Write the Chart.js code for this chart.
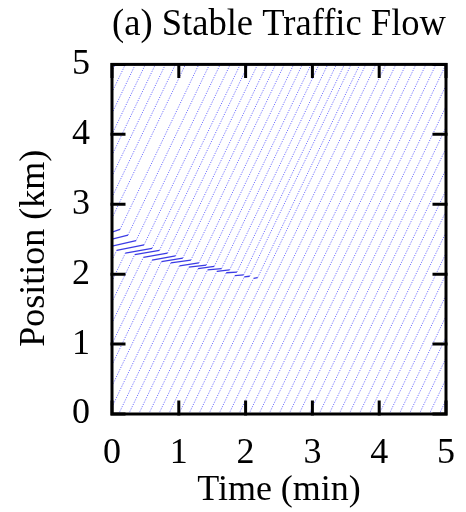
<!DOCTYPE html>
<html>
<head>
<meta charset="utf-8">
<script src="https://cdn.jsdelivr.net/npm/chart.js@4/dist/chart.umd.min.js"></script>
<style>
  html, body { margin: 0; padding: 0; background: #fff; }
  #wrap { width: 466px; height: 512px; }
</style>
</head>
<body>
<div id="wrap"><canvas id="myChart" width="466" height="512"></canvas></div>
<script>
// axis ticks
var timeTicks = [0, 1, 2, 3, 4, 5];
var posTicks = [0, 1, 2, 3, 4, 5];

// free-flowing vehicles: where each trajectory enters and leaves the plot box (time in min, position in km)
var freeT0 = [0, 0, 0, 0, 0, 0, 0, 0, 1.3, 1.45, 1.6, 1.75, 1.9, 2.05, 2.2, 2.35, 2.5,
  2.65, 2.8, 2.95, 3.1, 3.25, 3.4, 3.55, 3.7, 3.85, 4.0, 4.15, 4.3, 4.45, 4.6, 4.75, 4.9];
var freeP0 = [4.9, 4.6, 4.3, 4.0, 3.7, 3.4, 3.1, 2.8, 0, 0, 0, 0, 0, 0, 0, 0, 0,
  0, 0, 0, 0, 0, 0, 0, 0, 0, 0, 0, 0, 0, 0, 0, 0];
var freeT1 = [0.05, 0.2, 0.35, 0.5, 0.65, 0.8, 0.95, 1.1, 3.8, 3.95, 4.1, 4.25, 4.4, 4.55, 4.7, 4.85, 5,
  5, 5, 5, 5, 5, 5, 5, 5, 5, 5, 5, 5, 5, 5, 5, 5];
var freeP1 = [5, 5, 5, 5, 5, 5, 5, 5, 5, 5, 5, 5, 5, 5, 5, 5, 5,
  4.7, 4.4, 4.1, 3.8, 3.5, 3.2, 2.9, 2.6, 2.3, 2.0, 1.7, 1.4, 1.1, 0.8, 0.5, 0.2];

// vehicles caught in the jam: [time, position] corners of each trajectory
var jamTracks = [
  [[0, 2.6], [0.12, 2.64], [1.3, 5]],
  [[0, 2.5], [0.24, 2.56], [1.46, 5]],
  [[0, 2.4], [0.36, 2.48], [1.62, 5]],
  [[0, 2.2], [0.07, 2.34], [0.48, 2.42], [1.77, 5]],
  [[0, 1.9], [0.2, 2.3], [0.6, 2.37], [1.92, 5]],
  [[0, 1.6], [0.34, 2.28], [0.71, 2.34], [2.04, 5]],
  [[0, 1.3], [0.47, 2.24], [0.83, 2.3], [2.18, 5]],
  [[0, 1.0], [0.6, 2.2], [0.95, 2.26], [2.32, 5]],
  [[0, 0.7], [0.74, 2.18], [1.06, 2.23], [2.45, 5]],
  [[0, 0.4], [0.88, 2.16], [1.18, 2.2], [2.58, 5]],
  [[0, 0.1], [1.01, 2.12], [1.3, 2.16], [2.72, 5]],
  [[0.1, 0], [1.15, 2.1], [1.41, 2.13], [2.85, 5]],
  [[0.25, 0], [1.29, 2.08], [1.53, 2.11], [2.98, 5]],
  [[0.4, 0], [1.43, 2.06], [1.64, 2.08], [3.1, 5]],
  [[0.55, 0], [1.57, 2.04], [1.76, 2.06], [3.23, 5]],
  [[0.7, 0], [1.71, 2.02], [1.87, 2.03], [3.36, 5]],
  [[0.85, 0], [1.84, 1.98], [1.97, 1.99], [3.48, 5]],
  [[1.0, 0], [1.98, 1.96], [2.06, 1.97], [3.58, 5]],
  [[1.15, 0], [2.12, 1.94], [2.18, 1.95], [3.71, 5]]
];

var dotColor = 'rgba(50, 50, 255, 0.68)';
var slowColor = 'rgba(25, 25, 225, 0.85)';
var dotDash = [1.2, 1.3];

function isSlow(ctx) {
  var a = ctx.p0.parsed, b = ctx.p1.parsed;
  return (b.y - a.y) / (b.x - a.x) < 1;
}

var datasets = [];
freeT0.forEach(function (t, i) {
  datasets.push({ data: [{ x: t, y: freeP0[i] }, { x: freeT1[i], y: freeP1[i] }] });
});
jamTracks.forEach(function (tr) {
  datasets.push({ data: tr.map(function (pt) { return { x: pt[0], y: pt[1] }; }) });
});
datasets.forEach(function (d) {
  d.borderColor = dotColor;
  d.borderWidth = 1;
  d.borderDash = dotDash;
  d.pointRadius = 0;
  d.tension = 0;
  d.segment = {
    borderColor: function (ctx) { return isSlow(ctx) ? slowColor : dotColor; },
    borderDash: function (ctx) { return isSlow(ctx) ? [] : dotDash; },
    borderWidth: function (ctx) { return isSlow(ctx) ? 1.3 : 1; }
  };
});

// frame with inward ticks on all four sides
var framePlugin = {
  id: 'frame',
  afterDatasetsDraw: function (chart) {
    var c = chart.ctx, a = chart.chartArea;
    var xs = chart.scales.x, ys = chart.scales.y;
    var len = 12;
    c.save();
    c.strokeStyle = '#000';
    c.lineWidth = 3;
    c.lineCap = 'square';
    c.strokeRect(a.left, a.top, a.right - a.left, a.bottom - a.top);
    c.beginPath();
    timeTicks.forEach(function (t) {
      var px = xs.getPixelForValue(t);
      c.moveTo(px, a.bottom); c.lineTo(px, a.bottom - len);
      c.moveTo(px, a.top); c.lineTo(px, a.top + len);
    });
    posTicks.forEach(function (p) {
      var py = ys.getPixelForValue(p);
      c.moveTo(a.left, py); c.lineTo(a.left + len, py);
      c.moveTo(a.right, py); c.lineTo(a.right - len, py);
    });
    c.stroke();
    c.restore();
  }
};

Chart.defaults.font.family = "'Liberation Serif', 'Times New Roman', serif";
Chart.defaults.color = '#000';

var ctx = document.getElementById('myChart').getContext('2d');
var myChart = new Chart(ctx, {
  type: 'line',
  data: { datasets: datasets },
  options: {
    responsive: false,
    animation: false,
    layout: { padding: { left: 0, right: 0, top: 0, bottom: 0 } },
    plugins: {
      legend: { display: false },
      tooltip: { enabled: false },
      title: {
        display: true,
        text: '(a) Stable Traffic Flow',
        fullSize: false,
        font: { size: 37, weight: 'normal' },
        padding: { top: 3, bottom: 17 }
      }
    },
    scales: {
      x: {
        type: 'linear',
        min: 0, max: 5,
        afterBuildTicks: function (s) { s.ticks = timeTicks.map(function (v) { return { value: v }; }); },
        afterFit: function (s) { s.height = 98; s.paddingLeft = 0; s.paddingRight = 20; },
        grid: { display: false, drawTicks: false },
        border: { display: false },
        ticks: { font: { size: 36 }, padding: 18, maxRotation: 0 },
        title: { display: true, text: 'Time (min)', font: { size: 36 }, padding: { top: 0, bottom: 0 } }
      },
      y: {
        type: 'linear',
        min: 0, max: 5,
        afterBuildTicks: function (s) { s.ticks = posTicks.map(function (v) { return { value: v }; }); },
        afterFit: function (s) { s.width = 112; },
        grid: { display: false, drawTicks: false },
        border: { display: false },
        ticks: { font: { size: 36 }, padding: 22 },
        title: { display: true, text: 'Position (km)  ', font: { size: 36 }, padding: { top: 13, bottom: 0 } }
      }
    }
  },
  plugins: [framePlugin]
});
</script>
</body>
</html>
